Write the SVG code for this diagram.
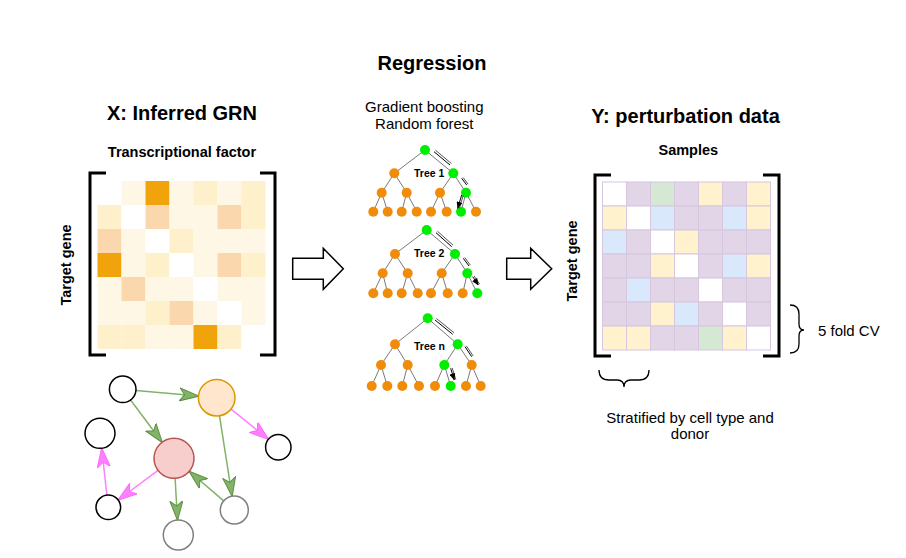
<svg xmlns="http://www.w3.org/2000/svg" width="906" height="558" viewBox="0 0 906 558">
<defs>
<style>
text{font-family:"Liberation Sans",Arial,sans-serif;fill:#000}
.t20{font-size:20px;font-weight:bold}
.t14b{font-size:14.5px;font-weight:bold}
.t15{font-size:15px}
.tree{font-size:10.5px;font-weight:bold}
.brk{fill:none;stroke:#000;stroke-width:3}
.brace{fill:none;stroke:#000;stroke-width:1.3}
.W{fill:#ffffff}.L1{fill:#fff7e6}.L2{fill:#fff0cc}.P{fill:#fad7ac}.O{fill:#f0a30a}
.rc{stroke:#d6c6de;stroke-width:1}
.pw{fill:#ffffff}.pp{fill:#e1d5e7}.pg{fill:#d5e8d4}.pb{fill:#dae8fc}.py{fill:#fff2cc}
.te{stroke:#7a7a7a;stroke-width:1;fill:none}
.on{fill:#f08c0a}.gn{fill:#00ee00}
.ta{stroke:#000;stroke-width:1;fill:none;marker-end:url(#ta)}
.tas{stroke:#555;stroke-width:1;fill:none}
.big{fill:#fff;stroke:#000;stroke-width:1.5}
.ge{stroke:#82b366;stroke-width:1.5;fill:none;marker-end:url(#mg)}
.pe{stroke:#ff80ff;stroke-width:1.5;fill:none;marker-end:url(#mp)}
.nb{fill:#fff;stroke:#000;stroke-width:1.5}
.ng{fill:#fff;stroke:#808080;stroke-width:1.5}
</style>
<marker id="mg" markerUnits="userSpaceOnUse" markerWidth="20" markerHeight="14" viewBox="0 0 20 14" refX="19" refY="7" orient="auto">
<path d="M0,0.5 L19.5,7 L0,13.5 L5,7 Z" fill="#82b366" stroke="#5f8f45" stroke-width="1"/>
</marker>
<marker id="mp" markerUnits="userSpaceOnUse" markerWidth="20" markerHeight="14" viewBox="0 0 20 14" refX="19" refY="7" orient="auto">
<path d="M0,0.5 L19.5,7 L0,13.5 L5,7 Z" fill="#ff80ff" stroke="#ff66ff" stroke-width="1"/>
</marker>
<marker id="ta" markerUnits="userSpaceOnUse" markerWidth="7" markerHeight="6" viewBox="0 0 7 6" refX="6.5" refY="3" orient="auto">
<path d="M0,0 L7,3 L0,6 Z" fill="#000"/>
</marker>
</defs>

<g id="titles">
<text class="t20" x="432" y="70" text-anchor="middle">Regression</text>
<text class="t20" x="182" y="120" text-anchor="middle">X: Inferred GRN</text>
<text class="t14b" x="182" y="156.7" text-anchor="middle">Transcriptional factor</text>
<text class="t14b" transform="translate(70.5,265) rotate(-90)" text-anchor="middle">Target gene</text>
<text class="t15" x="424.3" y="111.7" text-anchor="middle">Gradient boosting</text>
<text class="t15" x="424.3" y="129.3" text-anchor="middle">Random forest</text>
<text class="t20" x="685.5" y="123.3" text-anchor="middle">Y: perturbation data</text>
<text class="t14b" x="688.3" y="155" text-anchor="middle">Samples</text>
<text class="t14b" transform="translate(577.3,261) rotate(-90)" text-anchor="middle">Target gene</text>
<text class="t15" x="818" y="336">5 fold CV</text>
<text class="t15" x="690" y="422.7" text-anchor="middle">Stratified by cell type and</text>
<text class="t15" x="690" y="438.5" text-anchor="middle">donor</text>
</g>

<g id="grn-matrix">
<g transform="translate(97.5,181)">
<rect class="W" x="0" y="0" width="24" height="24"/><rect class="L1" x="24" y="0" width="24" height="24"/><rect class="O" x="48" y="0" width="24" height="24"/><rect class="L1" x="72" y="0" width="24" height="24"/><rect class="L2" x="96" y="0" width="24" height="24"/><rect class="L1" x="120" y="0" width="24" height="24"/><rect class="L2" x="144" y="0" width="24" height="24"/>
<rect class="L2" x="0" y="24" width="24" height="24"/><rect class="W" x="24" y="24" width="24" height="24"/><rect class="P" x="48" y="24" width="24" height="24"/><rect class="L1" x="72" y="24" width="24" height="24"/><rect class="L1" x="96" y="24" width="24" height="24"/><rect class="P" x="120" y="24" width="24" height="24"/><rect class="L2" x="144" y="24" width="24" height="24"/>
<rect class="P" x="0" y="48" width="24" height="24"/><rect class="L1" x="24" y="48" width="24" height="24"/><rect class="W" x="48" y="48" width="24" height="24"/><rect class="L2" x="72" y="48" width="24" height="24"/><rect class="L1" x="96" y="48" width="24" height="24"/><rect class="L1" x="120" y="48" width="24" height="24"/><rect class="L1" x="144" y="48" width="24" height="24"/>
<rect class="O" x="0" y="72" width="24" height="24"/><rect class="L1" x="24" y="72" width="24" height="24"/><rect class="L2" x="48" y="72" width="24" height="24"/><rect class="W" x="72" y="72" width="24" height="24"/><rect class="L1" x="96" y="72" width="24" height="24"/><rect class="P" x="120" y="72" width="24" height="24"/><rect class="L2" x="144" y="72" width="24" height="24"/>
<rect class="L1" x="0" y="96" width="24" height="24"/><rect class="P" x="24" y="96" width="24" height="24"/><rect class="L1" x="48" y="96" width="24" height="24"/><rect class="L1" x="72" y="96" width="24" height="24"/><rect class="W" x="96" y="96" width="24" height="24"/><rect class="L1" x="120" y="96" width="24" height="24"/><rect class="L1" x="144" y="96" width="24" height="24"/>
<rect class="L1" x="0" y="120" width="24" height="24"/><rect class="L1" x="24" y="120" width="24" height="24"/><rect class="L2" x="48" y="120" width="24" height="24"/><rect class="P" x="72" y="120" width="24" height="24"/><rect class="L1" x="96" y="120" width="24" height="24"/><rect class="W" x="120" y="120" width="24" height="24"/><rect class="L1" x="144" y="120" width="24" height="24"/>
<rect class="L2" x="0" y="144" width="24" height="24"/><rect class="L2" x="24" y="144" width="24" height="24"/><rect class="L1" x="48" y="144" width="24" height="24"/><rect class="L1" x="72" y="144" width="24" height="24"/><rect class="O" x="96" y="144" width="24" height="24"/><rect class="L2" x="120" y="144" width="24" height="24"/><rect class="W" x="144" y="144" width="24" height="24"/>
</g>
<path class="brk" d="M106,173 H90 V355 H106"/>
<path class="brk" d="M260,173 H275 V355 H260"/>
</g>

<g id="perturbation-matrix">
<g transform="translate(602.5,182)" class="rc">
<rect class="pw" x="0" y="0" width="24" height="24"/><rect class="pp" x="24" y="0" width="24" height="24"/><rect class="pg" x="48" y="0" width="24" height="24"/><rect class="pp" x="72" y="0" width="24" height="24"/><rect class="py" x="96" y="0" width="24" height="24"/><rect class="pp" x="120" y="0" width="24" height="24"/><rect class="py" x="144" y="0" width="24" height="24"/>
<rect class="py" x="0" y="24" width="24" height="24"/><rect class="pw" x="24" y="24" width="24" height="24"/><rect class="pb" x="48" y="24" width="24" height="24"/><rect class="pp" x="72" y="24" width="24" height="24"/><rect class="pp" x="96" y="24" width="24" height="24"/><rect class="pb" x="120" y="24" width="24" height="24"/><rect class="py" x="144" y="24" width="24" height="24"/>
<rect class="pb" x="0" y="48" width="24" height="24"/><rect class="pp" x="24" y="48" width="24" height="24"/><rect class="pw" x="48" y="48" width="24" height="24"/><rect class="py" x="72" y="48" width="24" height="24"/><rect class="pp" x="96" y="48" width="24" height="24"/><rect class="pp" x="120" y="48" width="24" height="24"/><rect class="pp" x="144" y="48" width="24" height="24"/>
<rect class="pp" x="0" y="72" width="24" height="24"/><rect class="pp" x="24" y="72" width="24" height="24"/><rect class="py" x="48" y="72" width="24" height="24"/><rect class="pw" x="72" y="72" width="24" height="24"/><rect class="pp" x="96" y="72" width="24" height="24"/><rect class="pb" x="120" y="72" width="24" height="24"/><rect class="py" x="144" y="72" width="24" height="24"/>
<rect class="pp" x="0" y="96" width="24" height="24"/><rect class="pb" x="24" y="96" width="24" height="24"/><rect class="pp" x="48" y="96" width="24" height="24"/><rect class="pp" x="72" y="96" width="24" height="24"/><rect class="pw" x="96" y="96" width="24" height="24"/><rect class="pp" x="120" y="96" width="24" height="24"/><rect class="pp" x="144" y="96" width="24" height="24"/>
<rect class="pp" x="0" y="120" width="24" height="24"/><rect class="pp" x="24" y="120" width="24" height="24"/><rect class="py" x="48" y="120" width="24" height="24"/><rect class="pb" x="72" y="120" width="24" height="24"/><rect class="pp" x="96" y="120" width="24" height="24"/><rect class="pw" x="120" y="120" width="24" height="24"/><rect class="pp" x="144" y="120" width="24" height="24"/>
<rect class="py" x="0" y="144" width="24" height="24"/><rect class="py" x="24" y="144" width="24" height="24"/><rect class="pp" x="48" y="144" width="24" height="24"/><rect class="pp" x="72" y="144" width="24" height="24"/><rect class="pg" x="96" y="144" width="24" height="24"/><rect class="py" x="120" y="144" width="24" height="24"/><rect class="pw" x="144" y="144" width="24" height="24"/>
</g>
<path class="brk" d="M611,175 H595 V356 H611"/>
<path class="brk" d="M763,175 H779 V356 H763"/>
<path class="brace" d="M790,305 Q799,305 799,314 V324 Q799,330 804,330 Q799,330 799,336 V344 Q799,353 790,353"/>
<path class="brace" d="M599,370 Q599,380 609,380 H617 Q624,380 624,387 Q624,380 631,380 H639 Q649,380 649,370"/>
</g>

<g id="big-arrows">
<path class="big" d="M292.7,258.3 H323.3 V248.3 L343.3,268.8 L323.3,289.3 V279.3 H292.7 Z"/>
<path class="big" d="M506.7,258.3 H530.7 V248.3 L551.7,268.8 L530.7,289.3 V279.3 H506.7 Z"/>
</g>

<g id="tree1">
<path class="te" d="M425,150 L394.3,173.3 M425,150 L453.3,173.3 M394.3,173.3 L381.7,192.7 M394.3,173.3 L406.7,192.7 M453.3,173.3 L440,192.7 M453.3,173.3 L466,192.7 M381.7,192.7 L373.3,211.7 M381.7,192.7 L387.7,211.7 M406.7,192.7 L401.7,211.7 M406.7,192.7 L416.7,211.7 M440,192.7 L431,211.7 M440,192.7 L446.7,211.7 M466,192.7 L461,211.7 M466,192.7 L476,211.7"/>
<circle class="gn" cx="425" cy="150" r="5"/>
<circle class="on" cx="394.3" cy="173.3" r="5"/><circle class="gn" cx="453.3" cy="173.3" r="5"/>
<circle class="on" cx="381.7" cy="192.7" r="5"/><circle class="on" cx="406.7" cy="192.7" r="5"/><circle class="on" cx="440" cy="192.7" r="5"/><circle class="gn" cx="466" cy="192.7" r="5"/>
<circle class="on" cx="373.3" cy="211.7" r="5"/><circle class="on" cx="387.7" cy="211.7" r="5"/><circle class="on" cx="401.7" cy="211.7" r="5"/><circle class="on" cx="416.7" cy="211.7" r="5"/><circle class="on" cx="431" cy="211.7" r="5"/><circle class="on" cx="446.7" cy="211.7" r="5"/><circle class="gn" cx="461" cy="211.7" r="5"/><circle class="on" cx="476" cy="211.7" r="5"/>
<text class="tree" x="414" y="177">Tree 1</text>
</g>

<g id="tree2">
<path class="te" d="M426.7,230 L395,254 M426.7,230 L455,254 M395,254 L382.7,273.3 M395,254 L407.7,273.3 M455,254 L441.7,273.3 M455,254 L467.3,273.3 M382.7,273.3 L373.3,293.3 M382.7,273.3 L387.7,293.3 M407.7,273.3 L401.7,293.3 M407.7,273.3 L417.7,293.3 M441.7,273.3 L431,293.3 M441.7,273.3 L447.7,293.3 M467.3,273.3 L462.7,293.3 M467.3,273.3 L477.3,293.3"/>
<circle class="gn" cx="426.7" cy="230" r="5"/>
<circle class="on" cx="395" cy="254" r="5"/><circle class="gn" cx="455" cy="254" r="5"/>
<circle class="on" cx="382.7" cy="273.3" r="5"/><circle class="on" cx="407.7" cy="273.3" r="5"/><circle class="on" cx="441.7" cy="273.3" r="5"/><circle class="gn" cx="467.3" cy="273.3" r="5"/>
<circle class="on" cx="373.3" cy="293.3" r="5"/><circle class="on" cx="387.7" cy="293.3" r="5"/><circle class="on" cx="401.7" cy="293.3" r="5"/><circle class="on" cx="417.7" cy="293.3" r="5"/><circle class="on" cx="431" cy="293.3" r="5"/><circle class="on" cx="447.7" cy="293.3" r="5"/><circle class="on" cx="462.7" cy="293.3" r="5"/><circle class="gn" cx="477.3" cy="293.3" r="5"/>
<text class="tree" x="414" y="257">Tree 2</text>
</g>

<g id="treen">
<path class="te" d="M427.7,318.3 L395,344.3 M427.7,318.3 L457.7,344.3 M395,344.3 L381,365 M395,344.3 L407.7,365 M457.7,344.3 L444.3,365 M457.7,344.3 L471.7,365 M381,365 L371.7,386 M381,365 L387.3,386 M407.7,365 L402.3,386 M407.7,365 L419,386 M444.3,365 L435,386 M444.3,365 L450.7,386 M471.7,365 L466,386 M471.7,365 L480.7,386"/>
<circle class="gn" cx="427.7" cy="318.3" r="5"/>
<circle class="on" cx="395" cy="344.3" r="5"/><circle class="gn" cx="457.7" cy="344.3" r="5"/>
<circle class="on" cx="381" cy="365" r="5"/><circle class="on" cx="407.7" cy="365" r="5"/><circle class="gn" cx="444.3" cy="365" r="5"/><circle class="on" cx="471.7" cy="365" r="5"/>
<circle class="on" cx="371.7" cy="386" r="5"/><circle class="on" cx="387.3" cy="386" r="5"/><circle class="on" cx="402.3" cy="386" r="5"/><circle class="on" cx="419" cy="386" r="5"/><circle class="on" cx="435" cy="386" r="5"/><circle class="gn" cx="450.7" cy="386" r="5"/><circle class="on" cx="466" cy="386" r="5"/><circle class="on" cx="480.7" cy="386" r="5"/>
<text class="tree" x="414" y="350.3">Tree n</text>
</g>

<g id="tree-path-arrows">
<path class="tas" d="M435.4,150.2 L451.4,163.5 M463.1,177.5 L468.1,184.2 M463.2,195.5 L459.2,208.8"/>
<path class="ta" d="M434,151.7 L450,165 M461.7,178.3 L466.7,185 M461.7,195 L457.7,208.3"/>
<path class="tas" d="M437.4,231.2 L453.1,245.2 M464.7,257.5 L470.4,265.2 M474.1,275.9 L479.7,284.2"/>
<path class="ta" d="M436,232.7 L451.7,246.7 M463.3,258.3 L469,266 M472.7,276.7 L478.3,285"/>
<path class="tas" d="M436.4,318.5 L454.1,332.8 M466.4,345.9 L473.1,355.9 M452.2,367.9 L455.8,379.6"/>
<path class="ta" d="M435,320 L452.7,334.3 M465,346.7 L471.7,356.7 M450.7,368.3 L454.3,380"/>
</g>

<g id="grn-edges">
<path class="ge" d="M135.9,390.5 L198.5,396.1"/>
<path class="ge" d="M130.6,400 L162.1,442.3"/>
<path class="pe" d="M231,409.2 L268.4,439.3"/>
<path class="ge" d="M219.5,415.8 L232.1,496.2"/>
<path class="ge" d="M223.7,500.9 L189.2,471.3"/>
<path class="ge" d="M175.1,478.3 L177.5,520"/>
<path class="pe" d="M158,470.3 L118.2,500"/>
<path class="pe" d="M106.9,495.1 L101.7,448.2"/>
</g>

<g id="grn-node-a"><circle class="nb" cx="122.7" cy="389.3" r="13.3"/></g>
<g id="grn-node-b"><circle cx="216.7" cy="397.7" r="18.3" fill="#ffe6cc" stroke="#d79b00" stroke-width="1.5"/></g>
<g id="grn-node-c"><circle class="nb" cx="100" cy="433.3" r="15"/></g>
<g id="grn-node-d"><circle cx="174" cy="458.3" r="20" fill="#f8cecc" stroke="#b85450" stroke-width="1.5"/></g>
<g id="grn-node-e"><circle class="nb" cx="278.3" cy="447.3" r="12.7"/></g>
<g id="grn-node-f"><circle class="nb" cx="108.3" cy="507.3" r="12.3"/></g>
<g id="grn-node-g"><circle class="ng" cx="178.3" cy="535" r="15"/></g>
<g id="grn-node-h"><circle class="ng" cx="234.3" cy="510" r="14"/></g>
</svg>
